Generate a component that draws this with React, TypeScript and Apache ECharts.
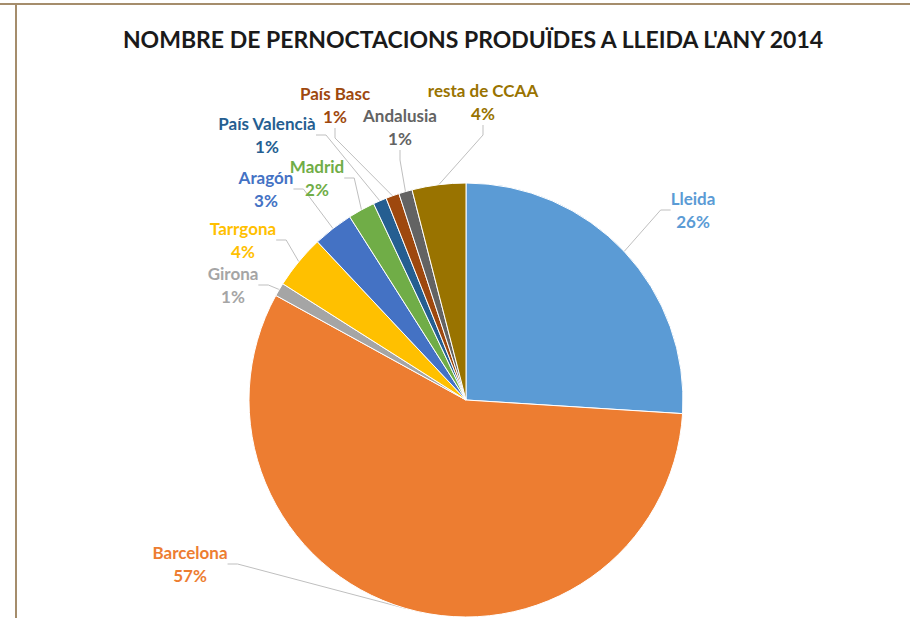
import React, { useEffect, useRef } from "react";
import * as echarts from "echarts";

const categories = [
  "Lleida",
  "Barcelona",
  "Girona",
  "Tarrgona",
  "Aragón",
  "Madrid",
  "País Valencià",
  "País Basc",
  "Andalusia",
  "resta de CCAA",
];
const values = [26, 57, 1, 4, 3, 2, 1, 1, 1, 4];
const colors = [
  "#5B9BD5",
  "#ED7D31",
  "#A5A5A5",
  "#FFC000",
  "#4472C4",
  "#70AD47",
  "#255E91",
  "#9E480E",
  "#636363",
  "#997300",
];
// label centre positions (layout)
const labelPos: [number, number][] = [
  [693, 210],
  [190, 564],
  [233, 285],
  [243, 240],
  [266, 189],
  [317, 178],
  [267, 135],
  [335, 105],
  [400, 127],
  [483, 102],
];

export default function App() {
  const ref = useRef<HTMLDivElement>(null);
  useEffect(() => {
    if (!ref.current) return;
    const chart = echarts.init(ref.current, undefined, { renderer: "svg" });
    chart.setOption({
      animation: false,
      backgroundColor: "#ffffff",
      title: {
        text: "NOMBRE DE PERNOCTACIONS PRODUÏDES A LLEIDA L'ANY 2014",
        left: 468,
        top: 22,
        textAlign: "center",
        textStyle: {
          fontFamily: "Lato",
          fontWeight: "bold",
          fontSize: 23,
          color: "#1a1a1a",
        },
      },
      graphic: [
        {
          type: "line",
          shape: { x1: 0, y1: 4, x2: 910, y2: 4 },
          style: { stroke: "#a58d6c", lineWidth: 2 },
        },
        {
          type: "line",
          shape: { x1: 16, y1: 4, x2: 16, y2: 618 },
          style: { stroke: "#a58d6c", lineWidth: 2 },
        },
      ],
      series: [
        {
          type: "pie",
          center: [466, 400],
          radius: 217,
          startAngle: 90,
          clockwise: true,
          avoidLabelOverlap: false,
          itemStyle: { borderColor: "#ffffff", borderWidth: 1 },
          data: categories.map((name, i) => ({
            name,
            value: values[i],
            itemStyle: { color: colors[i] },
            label: { color: colors[i] },
          })),
          label: {
            show: true,
            formatter: (p: any) => `${p.name}\n${p.value}%`,
            fontFamily: "Lato",
            fontWeight: "bold",
            fontSize: 17,
            lineHeight: 23,
            align: "center",
          },
          labelLine: {
            show: true,
            length: 15,
            length2: 10,
            lineStyle: { color: "#bfbfbf", width: 1 },
          },
          labelLayout: (params: any) => {
            const p = labelPos[params.dataIndex];
            return {
              x: p[0],
              y: p[1],
              align: "center",
              verticalAlign: "middle",
            };
          },
        },
      ],
    });
    return () => chart.dispose();
  }, []);
  return (
    <div
      ref={ref}
      style={{ position: "fixed", left: 0, top: 0, width: 910, height: 618 }}
    />
  );
}
